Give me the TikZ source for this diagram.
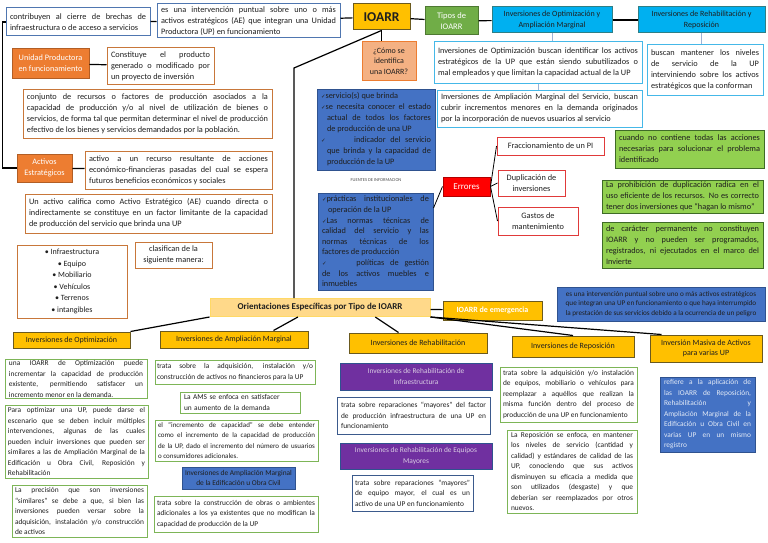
\documentclass[tikz,border=0pt]{standalone}
\usepackage{fontspec}
\setmainfont{Carlito}
\newfontfamily\chkfont{DejaVu Sans}
\usetikzlibrary{calc}
\tolerance=10000
\hbadness=10000
\definecolor{ink}{HTML}{1F1F1F}
\definecolor{azulln}{HTML}{4F76B0}
\definecolor{naranja}{HTML}{ED7D31}
\definecolor{naranjaln}{HTML}{C8773A}
\definecolor{oro}{HTML}{FFC000}
\definecolor{orodk}{HTML}{6B5A1E}
\definecolor{oroclaro}{HTML}{FFD98A}
\definecolor{verde}{HTML}{70AD47}
\definecolor{verdeln}{HTML}{7DB557}
\definecolor{lima}{HTML}{92D050}
\definecolor{limaln}{HTML}{3F6B27}
\definecolor{celeste}{HTML}{00B0F0}
\definecolor{celesteln}{HTML}{2E7F86}
\definecolor{celestebd}{HTML}{45B8E8}
\definecolor{azul}{HTML}{4472C4}
\definecolor{azuldk}{HTML}{2F528F}
\definecolor{morado}{HTML}{7030A0}
\definecolor{lila}{HTML}{D9CCE3}
\definecolor{rojo}{HTML}{FF0000}
\definecolor{rojoln}{HTML}{E03A3A}
\definecolor{salmon}{HTML}{F4B183}
\definecolor{marino}{HTML}{3B5A8C}
\definecolor{tenue}{HTML}{9DB3D6}
\newcommand{\chk}{{\chkfont\fontsize{5.5}{5}\selectfont ✓}}
\tikzset{
  every node/.style={font=\fontsize{8.3}{11}\selectfont,text=ink,inner xsep=4pt,inner ysep=1pt},
  abajo/.style={font=\fontsize{7.4}{10.5}\selectfont},
  box/.style={draw,line width=1pt,fill=white,align=justify},
  azulbox/.style={box,draw=azulln},
  narbox/.style={box,draw=naranjaln},
  narfill/.style={box,draw=naranja!75!black,fill=naranja,text=white,align=center},
  orobox/.style={box,draw=orodk,fill=oro,align=center},
  cabecera/.style={orobox,font=\fontsize{8}{10.5}\selectfont},
  celbox/.style={box,draw=celesteln,fill=celeste,align=center},
  celdesc/.style={box,draw=celestebd},
  limabox/.style={box,draw=limaln,fill=lima},
  verdebox/.style={box,abajo,draw=verdeln},
  azulfill/.style={box,draw=azuldk,fill=azul},
  moradobox/.style={box,abajo,draw=azuldk,fill=morado,text=lila,align=center},
  rojobox/.style={box,draw=rojoln,align=center},
  marbox/.style={box,abajo,draw=marino},
  link/.style={draw=black,line width=1.2pt},
  tenuelink/.style={draw=tenue,line width=0.6pt},
}

\begin{document}
\begin{tikzpicture}[x=1pt,y=-1pt]
  \useasboundingbox[fill=white] (0,0) rectangle (768,543);

  % fila superior
  \node[azulbox,text width=136pt,minimum height=28pt] (brechas) at (78,22) {contribuyen al cierre de brechas de\linebreak infraestructura o de acceso a servicios};
  \node[azulbox,text width=175pt,minimum height=34pt] (intervencion) at (248.5,21) {es una intervención puntual sobre uno o más\linebreak activos estratégicos (AE) que integran una Unidad\linebreak Productora (UP) en funcionamiento};
  \node[orobox,minimum width=57pt,minimum height=26pt,font=\fontsize{13.5}{14}\selectfont\bfseries] (ioarr) at (381.5,17) {IOARR};
  \node[box,draw=verde!70!black,fill=verde,text=white,align=center,minimum width=53pt,minimum height=28pt,font=\fontsize{8.5}{11}\selectfont] (tipos) at (451.5,21) {Tipos de\\IOARR};
  \node[celbox,minimum width=120pt,minimum height=26pt,font=\fontsize{8}{10.5}\selectfont] (optamp) at (552,20) {Inversiones de Optimización y\\Ampliación Marginal};
  \node[celbox,minimum width=127pt,minimum height=26pt,font=\fontsize{8}{10.5}\selectfont] (rehrep) at (701.5,20) {Inversiones de Rehabilitación y\\Reposición};
  \node[box,draw=naranja,fill=salmon,align=center,minimum width=54pt,minimum height=38pt,font=\fontsize{8}{10.5}\selectfont] (como) at (389,61) {¿Cómo se\\identifica\\una IOARR?};
  \node[celdesc,text width=200pt,minimum height=41pt] (optdesc) at (538,62.5) {Inversiones de Optimización buscan identificar los activos\linebreak estratégicos de la UP que están siendo subutilizados o\linebreak mal empleados y que limitan la capacidad actual de la UP};
  \node[celdesc,text width=197pt,minimum height=37pt] (ampdesc) at (539.5,108.5) {Inversiones de Ampliación Marginal del Servicio, buscan\linebreak cubrir incrementos menores en la demanda originados\linebreak por la incorporación de nuevos usuarios al servicio};
  \node[celdesc,text width=108pt,minimum height=50pt] (rehdesc) at (705,70) {buscan mantener los niveles\linebreak de servicio de la UP\linebreak interviniendo sobre los activos\linebreak estratégicos que la conforman};

  % columna izquierda
  \node[narfill,minimum width=77pt,minimum height=29pt] (up) at (50.5,63.5) {Unidad Productora\\en funcionamiento};
  \node[narbox,text width=99pt,minimum height=36pt] (producto) at (160.5,66) {Constituye el producto\linebreak generado o modificado por\linebreak un proyecto de inversión};
  \node[narbox,text width=241pt,minimum height=49pt] (conjunto) at (147.5,113.5) {conjunto de recursos o factores de producción asociados a la\linebreak capacidad de producción y/o al nivel de utilización de bienes o\linebreak servicios, de forma tal que permitan determinar el nivel de producción\linebreak efectivo de los bienes y servicios demandados por la población.};
  \node[narfill,minimum width=55pt,minimum height=28pt] (ae) at (44.5,168) {Activos\\Estratégicos};
  \node[narbox,text width=179pt,minimum height=38pt] (activo) at (178.5,170) {activo a un recurso resultante de acciones\linebreak económico-financieras pasadas del cual se espera\linebreak futuros beneficios económicos y sociales};
  \node[narbox,text width=239pt,minimum height=39pt] (califica) at (148.5,213.5) {Un activo califica como Activo Estratégico (AE) cuando directa o\linebreak indirectamente se constituye en un factor limitante de la capacidad\linebreak de producción del servicio que brinda una UP};
  \node[narbox,align=center,minimum width=110pt,minimum height=73pt,font=\fontsize{8}{11.6}\selectfont] (lista) at (72,281.5) {• Infraestructura\\• Equipo\\• Mobiliario\\• Vehículos\\• Terrenos\\• intangibles};
  \node[narbox,align=center,minimum width=77pt,minimum height=26pt] (clasifican) at (173.5,255) {clasifican de la\\siguiente manera:};

  % fuentes y errores
  \node[azulfill,text width=110pt,minimum height=81pt] (fuentesA) at (376,129.5) {\chk servicio(s) que brinda\\\chk se necesita conocer el estado\linebreak \hspace*{6pt}actual de todos los factores\linebreak \hspace*{6pt}de producción de una UP\\\chk\hspace{24pt} indicador del servicio\linebreak \hspace*{6pt}que brinda y la capacidad de\linebreak \hspace*{6pt}producción de la UP};
  \node[font=\fontsize{4.5}{5}\selectfont,text=ink!80] (fuenteslbl) at (376,180) {FUENTES DE INFORMACION};
  \node[azulfill,text width=107pt,minimum height=97pt,font=\fontsize{8.3}{10.6}\selectfont] (fuentesB) at (375.5,241.5) {\chk prácticas institucionales de\linebreak \hspace*{6pt}operación de la UP\\\chk Las normas técnicas de\linebreak calidad del servicio y las\linebreak normas técnicas de los\linebreak factores de producción\\\chk\hspace{24pt} políticas de gestión\linebreak de los activos muebles e\linebreak inmuebles};
  \node[box,draw=rojo!70!black,fill=rojo,text=white,align=center,minimum width=47pt,minimum height=19pt,font=\fontsize{9}{10}\selectfont] (errores) at (466.5,186.5) {Errores};
  \node[rojobox,minimum width=107pt,minimum height=18pt] (fracc) at (550.5,146) {Fraccionamiento de un PI};
  \node[rojobox,minimum width=67pt,minimum height=26pt] (dupl) at (531.5,183) {Duplicación de\\inversiones};
  \node[rojobox,minimum width=80pt,minimum height=28pt] (gastos) at (538,221) {Gastos de\\mantenimiento};
  \node[limabox,text width=141pt,minimum height=38pt] (nocontiene) at (689.5,149) {cuando no contiene todas las acciones\linebreak necesarias para solucionar el problema\linebreak identificado};
  \node[limabox,text width=153pt,minimum height=33pt] (prohib) at (682.5,196.5) {La prohibición de duplicación radica en el\linebreak uso eficiente de los recursos. No es correcto\linebreak tener dos inversiones que “hagan lo mismo”};
  \node[limabox,text width=153pt,minimum height=46pt] (permanente) at (682.5,245) {de carácter permanente no constituyen\linebreak IOARR y no pueden ser programados,\linebreak registrados, ni ejecutados en el marco del\linebreak Invierte};

  % orientaciones
  \node[box,draw=oro!60,fill=oroclaro,align=center,minimum width=220pt,minimum height=18pt,font=\fontsize{9}{10}\selectfont\bfseries] (orient) at (320,307.5) {Orientaciones Específicas por Tipo de IOARR};
  \node[orobox,text=white,minimum width=99pt,minimum height=19pt,font=\fontsize{8}{10}\selectfont\bfseries] (emerg) at (492.5,310.5) {IOARR de emergencia};
  \node[azulfill,align=center,minimum width=208pt,minimum height=34pt,font=\fontsize{7.2}{9.5}\selectfont] (emergdesc) at (661,304) {es una intervención puntual sobre uno o más activos estratégicos\\que integran una UP en funcionamiento o que haya interrumpido\\la prestación de sus servicios debido a la ocurrencia de un peligro};
  \node[cabecera,minimum width=117pt,minimum height=16pt] (hopt) at (71.5,340) {Inversiones de Optimización};
  \node[cabecera,minimum width=148pt,minimum height=17pt] (hamp) at (234,339.5) {Inversiones de Ampliación Marginal};
  \node[cabecera,minimum width=138pt,minimum height=20pt] (hreh) at (418,343) {Inversiones de Rehabilitación};
  \node[cabecera,minimum width=122pt,minimum height=21pt] (hrep) at (573,346.5) {Inversiones de Reposición};
  \node[cabecera,minimum width=112pt,minimum height=27pt] (hmas) at (706,348.5) {Inversión Masiva de Activos\\para varias UP};

  % optimizacion
  \node[verdebox,text width=134pt,minimum height=38pt] (opt1) at (76,379) {una IOARR de Optimización puede\linebreak incrementar la capacidad de producción\linebreak existente, permitiendo satisfacer un\linebreak incremento menor en la demanda.};
  \node[verdebox,inner xsep=3pt,text width=137pt,minimum height=73pt] (opt2) at (76.5,441.5) {Para optimizar una UP, puede darse el\linebreak escenario que se deben incluir múltiples\linebreak intervenciones, algunas de las cuales\linebreak pueden incluir inversiones que pueden ser\linebreak similares a las de Ampliación Marginal de la\linebreak Edificación u Obra Civil, Reposición y\linebreak Rehabilitación};
  \node[verdebox,inner xsep=3pt,text width=129pt,minimum height=52pt] (opt3) at (79.5,511) {La precisión que son inversiones\linebreak “similares” se debe a que, si bien las\linebreak inversiones pueden versar sobre la\linebreak adquisición, instalación y/o construcción\linebreak de activos};

  % ampliacion marginal
  \node[verdebox,inner xsep=2pt,text width=156pt,minimum height=24pt] (amp1) at (235,372) {trata sobre la adquisición, instalación y/o\linebreak construcción de activos no financieros para la~UP};
  \node[verdebox,align=left,text width=112pt,minimum height=21pt] (ams) at (240,402.5) {La AMS se enfoca en satisfacer\\un aumento de la demanda};
  \node[verdebox,inner xsep=3pt,text width=157pt,minimum height=41pt,font=\fontsize{7}{10.5}\selectfont] (incr) at (236.5,440.5) {el “incremento de capacidad” se debe entender\linebreak como el incremento de la capacidad de producción\linebreak de la UP, dado el incremento del número de usuarios\linebreak o consumidores adicionales.};
  \node[azulfill,abajo,align=center,inner xsep=2pt,minimum width=113pt,minimum height=22pt] (ampedif) at (238.5,478) {Inversiones de Ampliación Marginal\\de la Edificación u Obra Civil};
  \node[verdebox,inner xsep=3pt,text width=158pt,minimum height=36pt] (constr) at (236,514) {trata sobre la construcción de obras o ambientes\linebreak adicionales a los ya existentes que no modifican la\linebreak capacidad de producción de la UP};

  % rehabilitacion
  \node[moradobox,minimum width=152pt,minimum height=27pt] (rehinf) at (416,376.5) {Inversiones de Rehabilitación de\\Infraestructura};
  \node[marbox,text width=145pt,minimum height=37pt] (rehinfd) at (413.5,415.5) {trata sobre reparaciones “mayores” del factor\linebreak de producción infraestructura de una UP en\linebreak funcionamiento};
  \node[moradobox,minimum width=152pt,minimum height=26pt] (rehequ) at (416,456) {Inversiones de Rehabilitación de Equipos\\Mayores};
  \node[marbox,inner xsep=3pt,text width=115pt,minimum height=36pt] (rehequd) at (412.5,493) {trata sobre reparaciones “mayores”\linebreak de equipo mayor, el cual es un\linebreak activo de una UP en funcionamiento};

  % reposicion y masiva
  \node[verdebox,inner xsep=3pt,text width=131pt,minimum height=55pt] (rep1) at (568.5,394.5) {trata sobre la adquisición y/o instalación\linebreak de equipos, mobiliario o vehículos para\linebreak reemplazar a aquéllos que realizan la\linebreak misma función dentro del proceso de\linebreak producción de una UP en funcionamiento};
  \node[verdebox,text width=122pt,minimum height=83pt] (rep2) at (572,471.5) {La Reposición se enfoca, en mantener\linebreak los niveles de servicio (cantidad y\linebreak calidad) y estándares de calidad de las\linebreak UP, conociendo que sus activos\linebreak disminuyen su eficacia a medida que\linebreak son utilizados (desgaste) y que\linebreak deberían ser reemplazados por otros\linebreak nuevos.};
  \node[azulfill,abajo,text=white!85!azul,text width=87pt,minimum height=75pt] (masiva) at (707.5,414.5) {refiere a la aplicación de\linebreak las IOARR de Reposición,\linebreak Rehabilitación y\linebreak Ampliación Marginal de la\linebreak Edificación u Obra Civil en\linebreak varias UP en un mismo\linebreak registro};

  % conectores
  \draw[link] (brechas.west) -- ++(-3,0) |- (ae.west);
  \draw[link] (brechas) -- (intervencion);
  \draw[link] (intervencion) -- (ioarr);
  \draw[link] (ioarr) -- (tipos);
  \draw[link] (tipos) -- (optamp);
  \draw[link] (optamp) -- (rehrep);
  \draw[link] (ioarr.south) -- (ioarr.south |- como.north);
  \coordinate (quiebre) at (294,68);
  \draw[link] (ioarr.south) -- (quiebre) -- (quiebre |- orient.north);
  \draw[link] (up) -- (producto);
  \draw[link] (ae) -- (activo);
  \draw[tenuelink] (optamp.south) -- (optamp.south |- optdesc.north);
  \draw[tenuelink] (optdesc.south) -- (optdesc.south |- ampdesc.north);
  \draw[tenuelink] (rehrep.south) -- (rehrep.south |- rehdesc.north);
  \draw[link,line width=0.8pt] (fuentesB.30) -- (errores.west);
  \draw[link,line width=0.8pt] (errores.east) -- (fracc.west);
  \draw[link,line width=0.8pt] (errores.east) -- (dupl.west);
  \draw[link,line width=0.8pt] (errores.east) -- (gastos.west);
  \draw[link] (orient) -- (emerg);
  \draw[link] (orient.south west) -- (hopt.north east);
  \draw[link] ($(orient.south west)!.4!(orient.south east)$) -- ($(hamp.north east)+(-35,0)$);
  \draw[link] ($(orient.south west)!.75!(orient.south east)$) -- ($(hreh.north west)+(50,0)$);
  \draw[link] (orient.south east) -- (hrep.north);
  \draw[link] (orient.south east) -- ($(hmas.north west)+(12,0)$);
\end{tikzpicture}
\end{document}
